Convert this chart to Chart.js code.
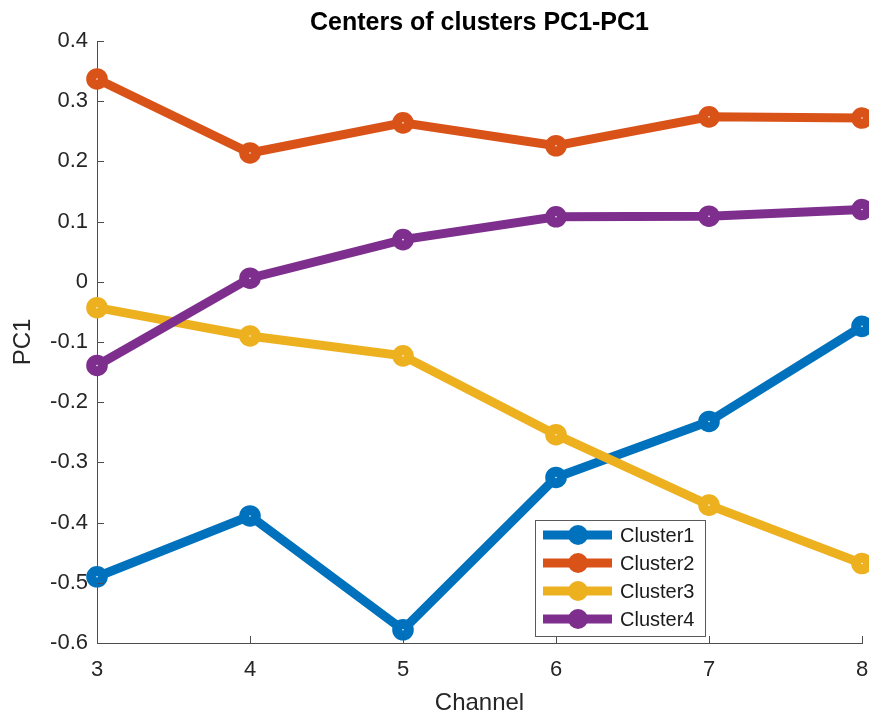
<!doctype html>
<html lang="en">
	<head>
		<meta charset="utf-8">
		<title>Centers of clusters PC1-PC1</title>
		<style>
			html, body {
			margin: 0;
			padding: 0;
			background: #ffffff;
			}
			.chart-container {
			width: 869px;
			height: 718px;
			}
		</style>
		<script src="https://cdn.jsdelivr.net/npm/chart.js@4"></script>
	</head>
	<body>
		<div class="chart-container">
			<canvas id="pcChart" width="869" height="718"></canvas>
		</div>
		<script>
			// Values
			const channels = [3, 4, 5, 6, 7, 8];
			const cluster1 = [-0.490, -0.389, -0.578, -0.325, -0.232, -0.074];
			const cluster2 = [0.337, 0.214, 0.264, 0.226, 0.274, 0.272];
			const cluster3 = [-0.043, -0.090, -0.123, -0.254, -0.371, -0.468];
			const cluster4 = [-0.139, 0.006, 0.070, 0.108, 0.109, 0.120];
			const seriesNames = ['Cluster1', 'Cluster2', 'Cluster3', 'Cluster4'];
			const seriesValues = [cluster1, cluster2, cluster3, cluster4];
			const xTicks = [3, 4, 5, 6, 7, 8];
			const yTicks = ['-0.6', '-0.5', '-0.4', '-0.3', '-0.2', '-0.1', '0', '0.1', '0.2', '0.3', '0.4'];

			const colours = ['#0072BD', '#D95319', '#EDB120', '#7E2F8E'];
			const fontName = "'Liberation Sans', Arial, Helvetica, sans-serif";
			const axis_colour = '#4d4d4d';
			const text_colour = '#262626';

			// Build datasets, later clusters drawn on top (like matlab)
			const datasets = seriesNames.map((name, i) => ({
				label: name,
				data: channels.map((c, j) => ({x: c, y: seriesValues[i][j]})),
				borderColor: colours[i],
				backgroundColor: colours[i],
				borderWidth: 9,
				pointRadius: 5.8,
				pointBorderWidth: 10,
				pointBackgroundColor: '#ffffff',
				pointBorderColor: colours[i],
				pointHoverRadius: 5.8,
				tension: 0,
				clip: false,
				order: seriesNames.length - i
			}));

			// Matlab style ticks pointing into the axes
			const inwardTicks = {
				id: 'inwardTicks',
				afterDatasetsDraw(chart) {
					const ctx = chart.ctx;
					const xs = chart.scales.x;
					const ys = chart.scales.y;
					ctx.save();
					ctx.strokeStyle = axis_colour;
					ctx.lineWidth = 1;
					ctx.beginPath();
					xTicks.forEach(v => {
						const px = Math.round(xs.getPixelForValue(v)) + 0.5;
						ctx.moveTo(px, ys.bottom);
						ctx.lineTo(px, ys.bottom - 7);
					});
					yTicks.forEach(t => {
						const py = Math.round(ys.getPixelForValue(parseFloat(t))) + 0.5;
						ctx.moveTo(xs.left, py);
						ctx.lineTo(xs.left + 7, py);
					});
					ctx.stroke();
					ctx.restore();
				}
			};

			// Legend box inside the plot, bottom right
			const boxLegend = {
				id: 'boxLegend',
				afterDraw(chart) {
					const ctx = chart.ctx;
					const left = 535.5, top = 520.5, w = 170, h = 116;
					ctx.save();
					ctx.fillStyle = '#ffffff';
					ctx.fillRect(left, top, w, h);
					ctx.strokeStyle = '#5a5a5a';
					ctx.lineWidth = 1;
					ctx.strokeRect(left, top, w, h);
					chart.data.datasets.forEach((ds, i) => {
						const y = 535 + i * 28;
						ctx.strokeStyle = ds.borderColor;
						ctx.lineWidth = 9;
						ctx.beginPath();
						ctx.moveTo(543, y);
						ctx.lineTo(612, y);
						ctx.stroke();
						ctx.fillStyle = ds.borderColor;
						ctx.beginPath();
						ctx.arc(578, y, 10, 0, Math.PI * 2);
						ctx.fill();
						ctx.fillStyle = '#1a1a1a';
						ctx.font = '20px ' + fontName;
						ctx.textAlign = 'left';
						ctx.textBaseline = 'middle';
						ctx.fillText(ds.label, 620, y + 1);
					});
					ctx.restore();
				}
			};

			var options = {
				animation: false,
				responsive: false,
				maintainAspectRatio: false,
				layout: {
					autoPadding: false,
					padding: {left: 0, right: 7, top: 0, bottom: 0}
				},
				plugins: {
					legend: {display: false},
					tooltip: {enabled: false},
					title: {
						display: true,
						text: 'Centers of clusters PC1-PC1',
						color: '#000000',
						fullSize: false,
						font: {family: fontName, size: 25, weight: 'bold', lineHeight: 1.2},
						padding: {top: 8, bottom: 3}
					}
				},
				scales: {
					x: {
						type: 'linear',
						min: 3,
						max: 8,
						afterBuildTicks: scale => {
							scale.ticks = xTicks.map(v => ({value: v}));
						},
						afterFit: scale => {
							scale.height = 75;
							// no extra room for the end labels, they may hang over
							scale.paddingLeft = 0;
							scale.paddingRight = 0;
						},
						grid: {display: false, drawTicks: false},
						border: {display: true, color: axis_colour, width: 1},
						ticks: {
							padding: 14,
							color: text_colour,
							font: {family: fontName, size: 22},
							maxRotation: 0,
							callback: v => String(v)
						},
						title: {
							display: true,
							text: 'Channel',
							color: text_colour,
							font: {family: fontName, size: 24, lineHeight: 1.2},
							padding: {top: 0, bottom: 0}
						}
					},
					y: {
						type: 'linear',
						min: -0.6,
						max: 0.4,
						afterBuildTicks: scale => {
							scale.ticks = yTicks.map(t => ({value: parseFloat(t)}));
						},
						afterFit: scale => {
							scale.width = 97;
							scale.paddingTop = 0;
							scale.paddingBottom = 0;
						},
						grid: {display: false, drawTicks: false},
						border: {display: true, color: axis_colour, width: 1},
						ticks: {
							padding: 9,
							color: text_colour,
							font: {family: fontName, size: 22},
							callback: (v, i) => yTicks[i]
						},
						title: {
							display: true,
							text: 'PC1',
							color: text_colour,
							font: {family: fontName, size: 24, lineHeight: 1.2},
							padding: {top: 9, bottom: 0}
						}
					}
				}
			};

			var chartCanvas = document.getElementById('pcChart');
			var chartInstance = new Chart(chartCanvas, {
				type: 'line',
				data: {datasets: datasets},
				options: options,
				plugins: [inwardTicks, boxLegend]
			});
		</script>
	</body>
</html>
